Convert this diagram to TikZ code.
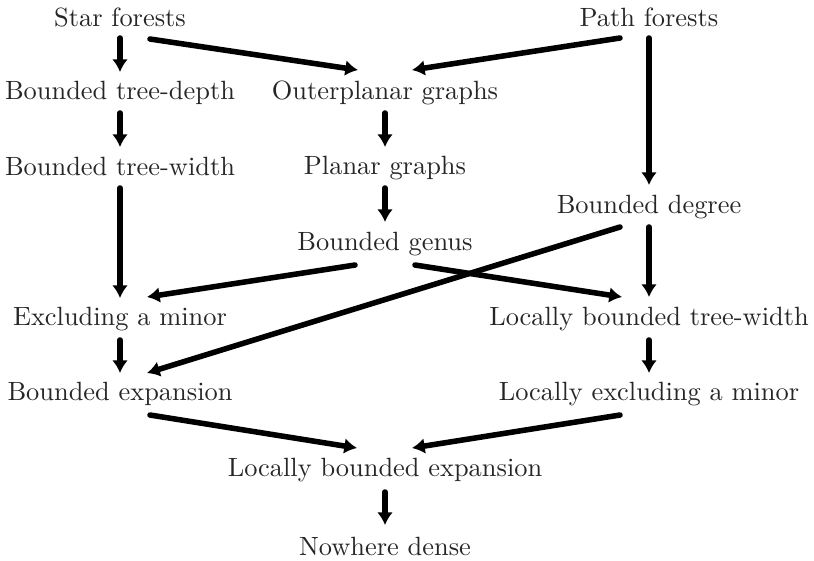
\documentclass[tikz,border=0pt]{standalone}
\usetikzlibrary{arrows.meta,calc}
\begin{document}
\begin{tikzpicture}[x=0.3788pt,y=-0.3788pt,
  lbl/.style={anchor=base,inner sep=0pt,text=black!85},
  arr/.style={line width=2.1pt,line cap=round,-{Latex[length=4.8pt,width=6pt]}}]
\useasboundingbox (0,0) rectangle (814,560);
\node[lbl] (sf) at (120,26) {Star forests};
\node[lbl] (pf) at (649,26) {Path forests};
\node[lbl] (btd) at (120,99) {Bounded tree-depth};
\node[lbl] (op) at (385,99) {Outerplanar graphs};
\node[lbl] (btw) at (120,175) {Bounded tree-width};
\node[lbl] (pl) at (385,174) {Planar graphs};
\node[lbl] (bd) at (649,213) {Bounded degree};
\node[lbl] (bg) at (385,250) {Bounded genus};
\node[lbl] (em) at (120,325) {Excluding a minor};
\node[lbl] (lbtw) at (649,325) {Locally bounded tree-width};
\node[lbl] (be) at (120,400) {Bounded expansion};
\node[lbl] (lem) at (649,400) {Locally excluding a minor};
\node[lbl] (lbe) at (385,476) {Locally bounded expansion};
\node[lbl] (nd) at (385,555) {Nowhere dense};
% vertical
\draw[arr] ($(sf.base)+(0,12)$) -- ($(btd.base)+(0,-27)$);
\draw[arr] ($(btd.base)+(0,14)$) -- ($(btw.base)+(0,-28)$);
\draw[arr] ($(op.base)+(0,14)$) -- ($(pl.base)+(0,-27)$);
\draw[arr] ($(btw.base)+(0,13)$) -- ($(em.base)+(0,-27)$);
\draw[arr] ($(pl.base)+(0,14)$) -- ($(bg.base)+(0,-28)$);
\draw[arr] ($(pf.base)+(0,12)$) -- ($(bd.base)+(0,-28)$);
\draw[arr] ($(bd.base)+(0,14)$) -- ($(lbtw.base)+(0,-28)$);
\draw[arr] ($(em.base)+(0,15)$) -- ($(be.base)+(0,-27)$);
\draw[arr] ($(lbtw.base)+(0,15)$) -- ($(lem.base)+(0,-27)$);
\draw[arr] ($(lbe.base)+(0,16)$) -- ($(nd.base)+(0,-30)$);
% diagonal
\draw[arr] ($(sf.base)+(30,13)$) -- ($(op.base)+(-27,-29)$);
\draw[arr] ($(pf.base)+(-29,12)$) -- ($(op.base)+(27,-29)$);
\draw[arr] ($(bg.base)+(-30,15)$) -- ($(em.base)+(27,-28)$);
\draw[arr] ($(bg.base)+(30,15)$) -- ($(lbtw.base)+(-27,-28)$);
\draw[arr] ($(bd.base)+(-29,14)$) -- ($(be.base)+(27,-27)$);
\draw[arr] ($(be.base)+(30,15)$) -- ($(lbe.base)+(-28,-28)$);
\draw[arr] ($(lem.base)+(-29,15)$) -- ($(lbe.base)+(27,-28)$);
\end{tikzpicture}
\end{document}
